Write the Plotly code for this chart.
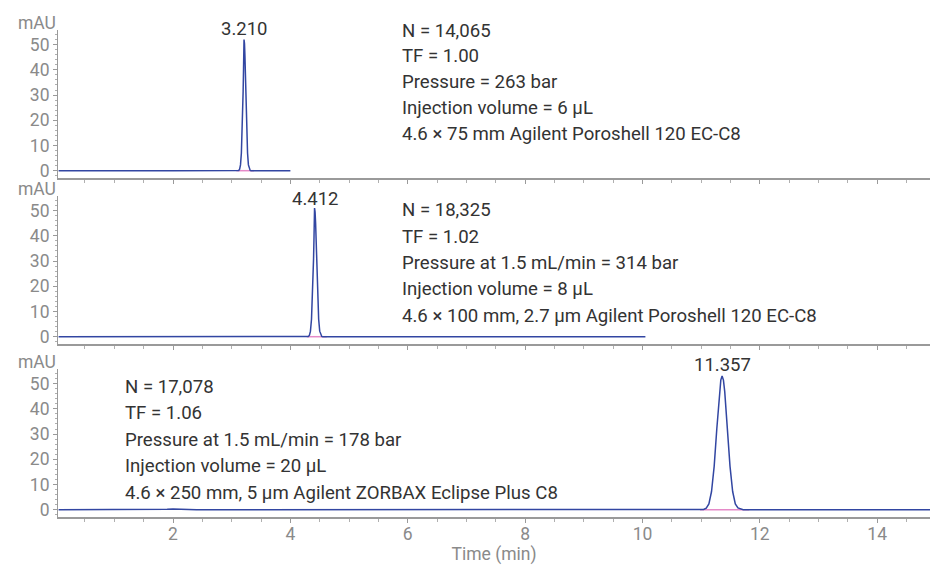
import plotly.graph_objects as go

# ---- data ----
# Chromatogram 1: 4.6 x 75 mm Poroshell 120 EC-C8
t1 = [0.05, 0.6, 0.9, 1.2, 1.5, 2.0, 3.0, 3.105, 3.120, 3.135, 3.150, 3.165, 3.180, 3.195, 3.202,
      3.210, 3.218, 3.225, 3.240, 3.255, 3.270, 3.285, 3.300, 3.315, 3.330, 3.45, 4.0]
a1 = [0.0, 0.1, 0.0, 0.1, 0.0, 0.0, 0.0, 0.0, 0.1, 0.6, 2.3, 7.0, 16.9, 31.5, 40.5,
      52.0, 50.4, 45.9, 31.5, 16.9, 7.0, 2.3, 0.6, 0.1, 0.0, 0.0, 0.0]
int1 = [3.08, 3.38]

# Chromatogram 2: 4.6 x 100 mm Poroshell 120 EC-C8
t2 = [0.05, 1.0, 2.0, 3.0, 4.0, 4.290, 4.307, 4.325, 4.342, 4.360, 4.377, 4.395, 4.403,
      4.412, 4.421, 4.430, 4.447, 4.465, 4.482, 4.500, 4.517, 4.535, 4.552, 4.8, 5.2, 5.6, 6.0, 8.0, 10.05]
a2 = [0.0, 0.0, 0.0, 0.0, 0.0, 0.0, 0.1, 0.6, 2.2, 6.9, 16.6, 30.9, 39.7,
      51.0, 49.4, 45.0, 30.9, 16.6, 6.9, 2.2, 0.6, 0.1, 0.0, 0.0, 0.1, 0.0, 0.0, 0.0, 0.0]
int2 = [4.28, 4.62]

# Chromatogram 3: 4.6 x 250 mm ZORBAX Eclipse Plus C8
t3 = [0.05, 1.5, 1.9, 2.0, 2.2, 2.4, 3.0, 6.0, 9.0, 11.0, 11.042, 11.087, 11.132, 11.177, 11.222,
      11.267, 11.312, 11.335, 11.357, 11.380, 11.402, 11.447, 11.492, 11.537, 11.582, 11.627,
      11.672, 11.717, 12.0, 13.0, 14.9]
a3 = [0.0, 0.0, 0.2, 0.3, 0.1, 0.0, 0.0, 0.0, 0.0, 0.0, 0.1, 0.6, 2.3, 7.2, 17.2,
      32.1, 46.8, 51.4, 53.0, 51.4, 46.8, 32.1, 17.2, 7.2, 2.3, 0.7,
      0.2, 0.0, 0.0, 0.0, 0.0]
int3 = [10.98, 11.82]

peak_times = [3.210, 4.412, 11.357]
peak_labels = ["3.210", "4.412", "11.357"]

info1 = ["N = 14,065", "TF = 1.00", "Pressure = 263 bar", "Injection volume = 6 µL",
         "4.6 × 75 mm Agilent Poroshell 120 EC-C8"]
info2 = ["N = 18,325", "TF = 1.02", "Pressure at 1.5 mL/min = 314 bar", "Injection volume = 8 µL",
         "4.6 × 100 mm, 2.7 µm Agilent Poroshell 120 EC-C8"]
info3 = ["N = 17,078", "TF = 1.06", "Pressure at 1.5 mL/min = 178 bar", "Injection volume = 20 µL",
         "4.6 × 250 mm, 5 µm Agilent ZORBAX Eclipse Plus C8"]

x_ticks = [2, 4, 6, 8, 10, 12, 14]
y_ticks = [0, 10, 20, 30, 40, 50]

# ---- styling ----
LINE = "#3246a2"
PINK = "#e58ac8"
GREY = "#8a8a8a"
TXT = "#333333"
FONT = "Roboto"
Y0, Y1 = -2.9, 55.8

def ydom(v):
    return (v - Y0) / (Y1 - Y0)

fig = go.Figure()
series = [(t1, a1, int1), (t2, a2, int2), (t3, a3, int3)]
for i, (t, a, ig) in enumerate(series):
    xa = "x" if i == 0 else f"x{i+1}"
    ya = "y" if i == 0 else f"y{i+1}"
    fig.add_trace(go.Scatter(x=ig, y=[0, 0], mode="lines", line=dict(color=PINK, width=1.5),
                             xaxis=xa, yaxis=ya, hoverinfo="skip", showlegend=False))
    fig.add_trace(go.Scatter(x=t, y=a, mode="lines", line=dict(color=LINE, width=1.5),
                             xaxis=xa, yaxis=ya, showlegend=False))

domains = [[0.6961, 1.0], [0.3552, 0.6591], [0.0, 0.3039]]
layout = dict(
    width=930, height=565,
    margin=dict(l=58, r=0, t=30, b=48),
    paper_bgcolor="white", plot_bgcolor="white",
    font=dict(family=FONT, color=TXT),
    showlegend=False,
)
for i in range(3):
    xk = "xaxis" if i == 0 else f"xaxis{i+1}"
    yk = "yaxis" if i == 0 else f"yaxis{i+1}"
    ya = "y" if i == 0 else f"y{i+1}"
    xa = "x" if i == 0 else f"x{i+1}"
    layout[xk] = dict(
        range=[0.04, 14.9], anchor=ya, domain=[0, 1],
        showline=True, linecolor="#9a9a9a", linewidth=2,
        showgrid=False, zeroline=False,
        tickmode="array", tickvals=x_ticks, ticks="outside", ticklen=4, tickcolor="#9a9a9a",
        showticklabels=(i == 2),
        tickfont=dict(size=17.5, color=GREY, family=FONT),
        minor=dict(dtick=0.5, tick0=0, ticks="outside", ticklen=3, tickcolor="#b0b0b0", showgrid=False),
    )
    if i != 0:
        layout[xk]["matches"] = "x"
    layout[yk] = dict(
        range=[Y0, Y1], domain=domains[i], anchor=xa,
        showline=True, linecolor="#9a9a9a", linewidth=1,
        showgrid=False, zeroline=False,
        tickmode="array", tickvals=y_ticks, ticks="outside", ticklen=4, tickcolor="#9a9a9a",
        tickfont=dict(size=17.5, color=GREY, family=FONT),
        minor=dict(dtick=2, tick0=0, ticks="outside", ticklen=2, tickcolor="#b0b0b0", showgrid=False),
    )
layout["xaxis3"]["ticklabelstandoff"] = -4
layout["xaxis3"]["title"] = dict(text="Time (min)", font=dict(size=17.5, color=GREY, family=FONT), standoff=5)
fig.update_layout(**layout)

ann = []
for i in range(3):
    xa = "x" if i == 0 else f"x{i+1}"
    ya = "y" if i == 0 else f"y{i+1}"
    ann.append(dict(text="mAU", xref=f"{xa} domain", yref=f"{ya} domain", x=0, y=1,
                    xanchor="right", yanchor="bottom", showarrow=False, xshift=0, yshift=-5,
                    font=dict(size=17.5, color=GREY, family=FONT)))

label_y = [56.2, 54.6, 57.2]
for i in range(3):
    xa = "x" if i == 0 else f"x{i+1}"
    ya = "y" if i == 0 else f"y{i+1}"
    ann.append(dict(text=peak_labels[i], x=peak_times[i], y=ydom(label_y[i]), xref=xa,
                    yref=f"{ya} domain", xanchor="center", yanchor="middle", showarrow=False,
                    font=dict(size=18.5, color=TXT, family=FONT)))

info_pos = [(5.86, [55.6, 45.3, 35.1, 24.8, 14.5], info1),
            (5.86, [50.2, 39.6, 29.2, 18.8, 8.2], info2),
            (1.15, [48.8, 38.3, 27.8, 17.2, 6.6], info3)]
for i, (x0, ys, lines) in enumerate(info_pos):
    xa = "x" if i == 0 else f"x{i+1}"
    ya = "y" if i == 0 else f"y{i+1}"
    for yv, s in zip(ys, lines):
        ann.append(dict(text=s, x=x0, y=ydom(yv), xref=xa, yref=f"{ya} domain",
                        xanchor="left", yanchor="middle",
                        showarrow=False, font=dict(size=18.6, color=TXT, family=FONT)))
fig.update_layout(annotations=ann)

fig.write_html("out.html", config={"displayModeBar": False},
               post_script="document.body.style.margin='0';document.body.style.overflow='hidden';")
